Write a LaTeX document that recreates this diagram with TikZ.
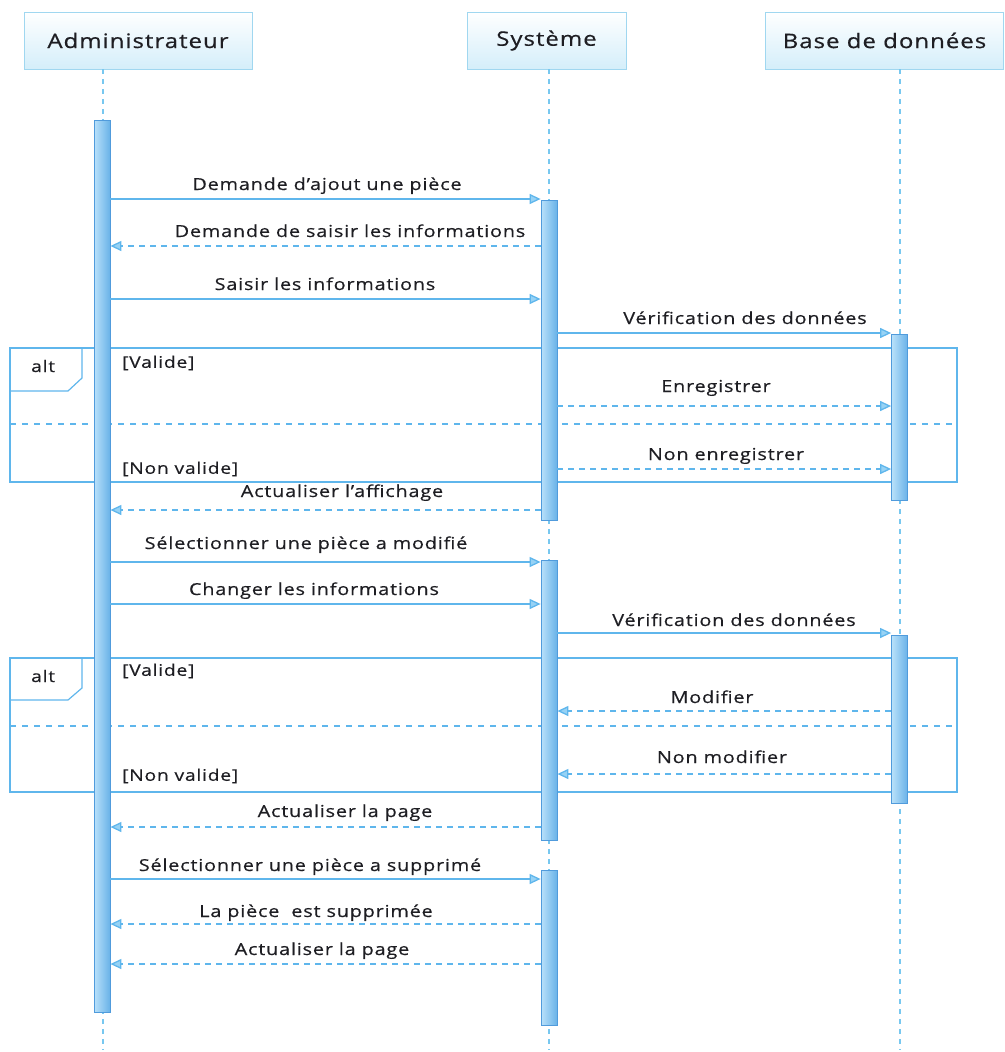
\documentclass[tikz,border=0pt]{standalone}
\usepackage{fontspec}
\setmainfont{Open Sans}[FakeStretch=1.2, LetterSpace=5, FakeBold=0.5]
\usetikzlibrary{arrows.meta}

\definecolor{seqline}{RGB}{95,182,236}
\definecolor{lifeblue}{RGB}{120,200,240}
\definecolor{tipfill}{RGB}{150,210,245}
\definecolor{barlight}{RGB}{185,225,250}
\definecolor{bardark}{RGB}{105,178,232}
\definecolor{barrim}{RGB}{80,155,220}
\definecolor{headrim}{RGB}{160,215,240}
\definecolor{headfill}{RGB}{212,238,250}
\definecolor{txt}{RGB}{30,30,35}

\tikzset{
  head/.style={draw=headrim, line width=0.8pt, top color=white, bottom color=headfill,
    inner sep=0pt, font=\fontsize{20}{24}\selectfont, text=txt},
  lifeline/.style={draw=lifeblue, line width=1.2pt, dash pattern=on 5pt off 5pt},
  actbar/.style={draw=barrim, line width=0.8pt, left color=barlight, right color=bardark,
    inner sep=0pt, minimum width=16pt},
  msg/.style={draw=seqline, line width=1.3pt, -{Triangle[length=11pt,width=10pt,fill=tipfill]}},
  reply/.style={msg, dash pattern=on 6pt off 5pt},
  lbl/.style={anchor=base, inner sep=0pt, font=\fontsize{16.5}{19}\selectfont, text=txt},
  guard/.style={anchor=west, inner sep=0pt, font=\fontsize{16}{19}\selectfont, text=txt},
  altframe/.style={draw=seqline, line width=1.2pt},
  altsep/.style={draw=seqline, line width=1.2pt, dash pattern=on 6pt off 6pt},
}

\begin{document}
\begin{tikzpicture}[x=1pt, y=-1pt]
\useasboundingbox (0,0) rectangle (1004,1052);

% participants
\node[head, minimum width=228pt, minimum height=57pt] (hadm) at (138,40.5) {Administrateur};
\node[head, minimum width=159pt, minimum height=57pt] (hsys) at (546.5,40.5) {Système};
\node[head, minimum width=238pt, minimum height=57pt] (hbd)  at (884.5,40.5) {Base de données};

% lifeline anchors
\coordinate (admx) at (103,0);
\coordinate (sysx) at (549,0);
\coordinate (bdx)  at (900,0);
\coordinate (admend) at (103,1050);
\coordinate (sysend) at (549,1050);
\coordinate (bdend)  at (900,1050);

% combined fragments (behind everything)
\draw[altframe] (10,348) rectangle (957,482);
\draw[altframe] (10,391) -- (68,391) -- (82,378) -- (82,348);
\draw[altsep] (10,424) -- (957,424);
\node[guard] (alt1) at (31,366) {alt};
\node[guard] (g1a) at (122,363) {[Valide]};
\node[guard] (g1b) at (122,469) {[Non valide]};

\draw[altframe] (10,658) rectangle (957,792);
\draw[altframe] (10,700) -- (68,700) -- (82,688) -- (82,658);
\draw[altsep] (10,726) -- (957,726);
\node[guard] (alt2) at (31,676) {alt};
\node[guard] (g2a) at (122,671) {[Valide]};
\node[guard] (g2b) at (122,776) {[Non valide]};

% lifelines
\draw[lifeline] (admx |- hadm.south) -- (admend);
\draw[lifeline] (sysx |- hsys.south) -- (sysend);
\draw[lifeline] (bdx |- hbd.south) -- (bdend);

% activation bars
\node[actbar, minimum height=892pt] (badm) at (102,566) {};
\node[actbar, minimum height=320pt] (bs1) at (549,360) {};
\node[actbar, minimum height=280pt] (bs2) at (549,700) {};
\node[actbar, minimum height=155pt] (bs3) at (549,947.5) {};
\node[actbar, minimum height=166pt] (bd1) at (899.5,417.5) {};
\node[actbar, minimum height=168pt] (bd2) at (899.5,719) {};

% adding a piece
\draw[msg]   (badm.east |- 0,199) -- (bs1.west |- 0,199);
\node[lbl] (m1) at (327,190) {Demande d’ajout une pièce};
\draw[reply] (bs1.west |- 0,246) -- (badm.east |- 0,246);
\node[lbl] (m2) at (350,237) {Demande de saisir les informations};
\draw[msg]   (badm.east |- 0,299) -- (bs1.west |- 0,299);
\node[lbl] (m3) at (325,290) {Saisir les informations};
\draw[msg]   (bs1.east |- 0,333) -- (bd1.west |- 0,333);
\node[lbl] (m4) at (745,324) {Vérification des données};
\draw[reply] (bs1.east |- 0,406) -- (bd1.west |- 0,406);
\node[lbl] (m5) at (716,392) {Enregistrer};
\draw[reply] (bs1.east |- 0,469) -- (bd1.west |- 0,469);
\node[lbl] (m6) at (726,460) {Non enregistrer};
\draw[reply] (bs1.west |- 0,510) -- (badm.east |- 0,510);
\node[lbl] (m7) at (342,497) {Actualiser l’affichage};

% modifying a piece
\draw[msg]   (badm.east |- 0,562) -- (bs2.west |- 0,562);
\node[lbl] (m8) at (306,549) {Sélectionner une pièce a modifié};
\draw[msg]   (badm.east |- 0,604) -- (bs2.west |- 0,604);
\node[lbl] (m9) at (314,595) {Changer les informations};
\draw[msg]   (bs2.east |- 0,633) -- (bd2.west |- 0,633);
\node[lbl] (m10) at (734,626) {Vérification des données};
\draw[reply] (bd2.west |- 0,711) -- (bs2.east |- 0,711);
\node[lbl] (m11) at (712,703) {Modifier};
\draw[reply] (bd2.west |- 0,774) -- (bs2.east |- 0,774);
\node[lbl] (m12) at (722,763) {Non modifier};
\draw[reply] (bs2.west |- 0,827) -- (badm.east |- 0,827);
\node[lbl] (m13) at (345,817) {Actualiser la page};

% deleting a piece
\draw[msg]   (badm.east |- 0,879) -- (bs3.west |- 0,879);
\node[lbl] (m14) at (310,871) {Sélectionner une pièce a supprimé};
\draw[reply] (bs3.west |- 0,924) -- (badm.east |- 0,924);
\node[lbl] (m15) at (316,917) {La pièce\ \ est supprimée};
\draw[reply] (bs3.west |- 0,964) -- (badm.east |- 0,964);
\node[lbl] (m16) at (322,955) {Actualiser la page};
\end{tikzpicture}
\end{document}
